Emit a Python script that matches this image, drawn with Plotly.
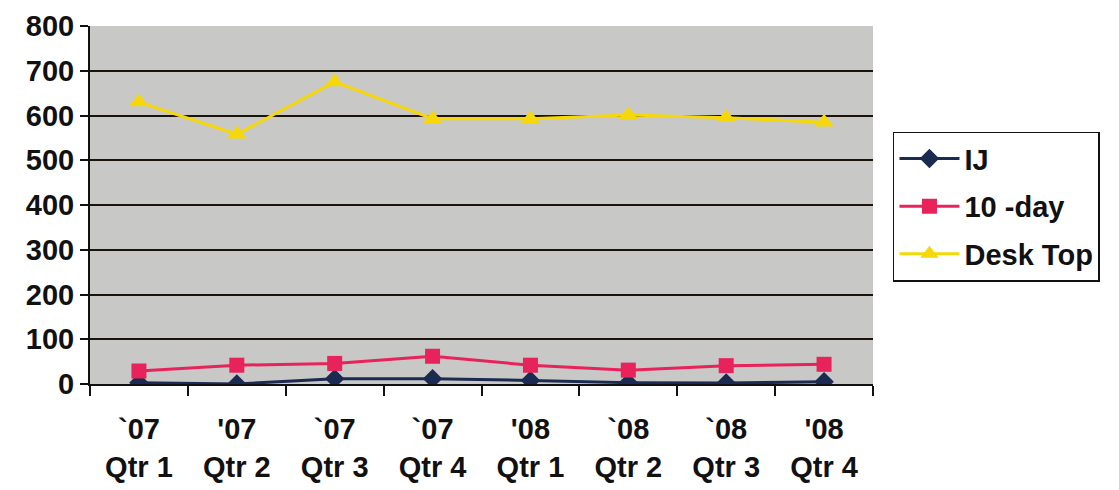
import plotly.graph_objects as go

categories = ["`07<br>Qtr 1", "'07<br>Qtr 2", "`07<br>Qtr 3", "`07<br>Qtr 4",
              "'08<br>Qtr 1", "`08<br>Qtr 2", "`08<br>Qtr 3", "'08<br>Qtr 4"]
ij = [3, 0, 12, 12, 8, 3, 2, 5]
ten_day = [29, 42, 46, 62, 42, 31, 41, 44]
desk_top = [630, 558, 675, 593, 593, 601, 595, 585]
y_ticks = [0, 100, 200, 300, 400, 500, 600, 700, 800]

font = dict(family="Liberation Sans, Arial, sans-serif", size=29, color="#111111", weight="bold")

fig = go.Figure()
fig.add_trace(go.Scatter(x=categories, y=ij, name="IJ", mode="lines+markers", legendgroup="a",
                         line=dict(color="#1b2a50", width=3),
                         marker=dict(symbol="diamond", size=15, color="#1b2a50")))
fig.add_trace(go.Scatter(x=categories, y=ten_day, name="10 -day", mode="lines+markers", legendgroup="b",
                         line=dict(color="#e8225a", width=3),
                         marker=dict(symbol="square", size=15, color="#e8225a")))
fig.add_trace(go.Scatter(x=categories, y=desk_top, name="Desk Top", mode="lines+markers", legendgroup="c",
                         line=dict(color="#f6d70a", width=3),
                         marker=dict(symbol="triangle-up", size=17, color="#f6d70a")))

fig.update_layout(
    width=1119, height=490,
    margin=dict(l=82, r=254, t=18, b=114),
    paper_bgcolor="white",
    plot_bgcolor="#c8c8c6",
    font=font,
    showlegend=True,
    legend=dict(x=1.0255, y=0.705, xanchor="left", yanchor="top",
                bordercolor="#111111", borderwidth=1.5, bgcolor="white",
                font=font, tracegroupgap=7, itemwidth=60, traceorder="grouped"),
)
fig.update_xaxes(type="category", showgrid=False, showline=True, linecolor="#111111", linewidth=2,
                 ticks="outside", tickson="boundaries", ticklen=10, tickwidth=2, tickcolor="#111111",
                 tickfont=font, range=[-0.5, 7.5], automargin=False, ticklabelstandoff=18)
fig.update_yaxes(range=[0, 800], tickvals=y_ticks, showgrid=True, gridcolor="#1c140c", gridwidth=2,
                 showline=True, linecolor="#111111", linewidth=2, zeroline=False,
                 ticks="outside", ticklen=8, tickwidth=2, tickcolor="#111111", tickfont=font,
                 automargin=False, ticklabelstandoff=0, ticklabeloverflow="allow")

fig.write_html("out.html")
